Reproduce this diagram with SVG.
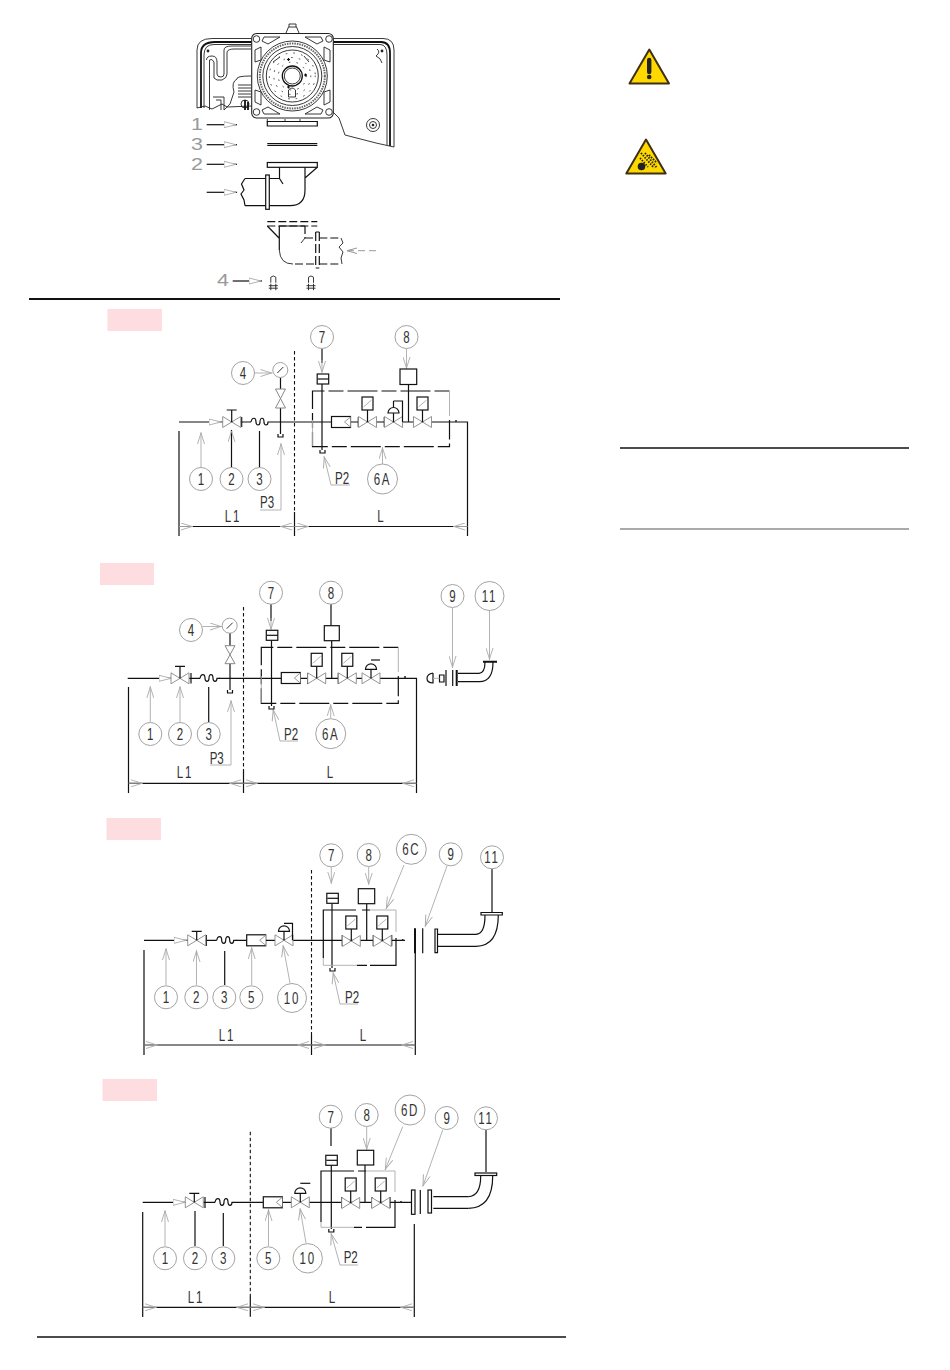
<svg xmlns="http://www.w3.org/2000/svg" width="950" height="1370" viewBox="0 0 950 1370">
<style>
.k{fill:none;stroke:#111;stroke-width:1.2}
.g{fill:none;stroke:#aaa;stroke-width:.9}
.t{fill:none;stroke:#111;stroke-width:2}
.dk{fill:none;stroke:#111;stroke-width:1.2;stroke-dasharray:15 4 30 4}
.dv{fill:none;stroke:#111;stroke-width:1.1;stroke-dasharray:3.5 2.5}
.c{fill:#fff;stroke:#999;stroke-width:.9}
.w{fill:#fff;stroke:#111;stroke-width:1.2}
text{font-family:"Liberation Sans",Arial,sans-serif;font-size:16.5px;fill:#333;text-anchor:middle}
.s{letter-spacing:2.5px}
.big{fill:#999;font-size:16.5px}
.pink{fill:#fddde0}
.d{fill:none;stroke:#222;stroke-width:.9}
.h{fill:none;stroke:#111;stroke-width:1.8}
</style>
<defs>
<marker id="a" viewBox="0 0 13 8" refX="13" refY="4" markerWidth="13" markerHeight="8" orient="auto-start-reverse" markerUnits="userSpaceOnUse"><path d="M0,1 L12,4 L0,7 Z" fill="#fff" stroke="#aaa" stroke-width=".9"/></marker>
<marker id="n" viewBox="0 0 13 8" refX="13" refY="4" markerWidth="13" markerHeight="8" orient="auto-start-reverse" markerUnits="userSpaceOnUse"><path d="M1,.5 L12,4 L1,7.5" fill="none" stroke="#aaa" stroke-width=".9"/></marker>
<g id="v"><path d="M-9,-5.5V5.5L9,-5.5V5.5Z" fill="#fff" stroke="#888" stroke-width=".9"/></g>
<g id="vm"><use href="#v"/><path class="k" d="M0,0V-12M-5,-12H5"/></g>
<g id="vm2"><use href="#v"/><path class="k" d="M0,0V-9M-5,-9H5"/></g>
<g id="vs"><use href="#v"/><path class="k" d="M0,0V-12"/><rect class="w" x="-5.5" y="-25" width="11" height="13"/><path class="g" d="M-4,-15L4,-22"/></g>
<g id="vr"><use href="#v"/><path class="k" d="M0,0V-9"/><path class="w" d="M-5.5,-9A5.5,5.5 0 0 1 5.5,-9Z"/></g>
<g id="f"><rect class="w" x="0" y="-5.5" width="19" height="11"/><path d="M19,-5L13,0L19,5" fill="#fff" stroke="#999"/></g>
<path id="b" class="k" d="M0,0C1,-5 5,-5 5,0C5,4 9,4 9,0C9,-5 13,-5 13,0C13,4 17,4 17,0L20,0"/>
<g id="sw"><rect class="w" x="-5.500" y="-5" width="11.500" height="10"/><path class="k" d="M-5,0H6"/></g>
<g id="gg"><circle class="c" r="7.500"/><path d="M-3,3L3,-3" stroke="#333" fill="none"/></g>
<path id="u" class="k" d="M-2.500,0V3H2.500V0"/>
<g id="bolt"><path class="d" d="M-2.500,6V0.500Q0,-2 2.500,.5V6M-4.500,9H4.500M-4.500,11.500H4.500M-2.500,7V13.500M2.500,7V13.500"/></g>
</defs>

<g id="rules">
<path d="M29,299H560" stroke="#111" stroke-width="2"/>
<path d="M37,1337H566" stroke="#111" stroke-width="1.6"/>
<path d="M620,448H909" stroke="#111" stroke-width="1.4"/>
<path d="M620,529H909" stroke="#aaa" stroke-width="1.8"/>
</g>

<g id="warn1">
<path d="M649.300,49.500L669,83.500H629.500Z" fill="#ffd800" stroke="#3d3115" stroke-width="2" stroke-linejoin="round"/>
<path d="M649.200,60V72" stroke="#222" stroke-width="4.400" stroke-linecap="round"/>
<circle cx="649.200" cy="77" r="2.300" fill="#222"/>
</g>
<g id="warn2">
<path d="M646,139.500L665.700,173.500H626.300Z" fill="#ffd800" stroke="#3d3115" stroke-width="2" stroke-linejoin="round"/>
<circle cx="641.500" cy="166.500" r="3.800" fill="#222"/>
<path d="M641,153L654,168M645,153L657,168M640,158L648,167M649,155L657,163" stroke="#222" stroke-width="1.800" stroke-dasharray="1.500 1.300" fill="none"/>
</g>

<g id="burner">
<path class="d" d="M251.700,38.500H212Q197,38.500 197,50V108M333.300,38.500H383Q394,38.500 394,50V147"/>
<path class="h" d="M251.700,42H215Q201,42 201,53V108M333.300,42H381Q390,42 390,53V146"/>
<path class="d" d="M251.700,44.500H214Q204,44.500 204,55V108M333.300,44.500H380Q387,44.500 387,55V145"/>
<path class="d" d="M197,108L205,106L212,109L222,104L227,107L251.700,106"/>
<path class="d" d="M394,147L376,143L345,135L339,118L333,112"/>
<path class="d" d="M206.500,60Q206.500,56 212,56Q217,56 217,62V74Q217,77 221,77Q224,77 224,74V50Q224,46 232,46H251"/>
<path class="d" d="M209.500,110V60Q212,58 214,62V78Q216,81 222,80Q227,78 227,74V52Q228,49 234,49H251"/>
<path class="d" d="M237,79Q236,76 251,76M237,79Q231,82 234,92L230,104L224,110"/>
<path class="d" d="M213,97H224V110M216,100H221V110"/>
<path class="d" d="M238,85H251M238,88H251M238,91H251M238,94H251M238,97H251"/>
<circle class="d" cx="245" cy="104" r="4"/><path class="h" d="M245,100V110M248,102V110"/>
<path class="d" d="M377,49Q381,52 376,56Q381,58 382,63"/>
<circle cx="208" cy="51" r="1.400" fill="#222"/><circle cx="382" cy="51" r="1.400" fill="#222"/>
<circle class="d" cx="373" cy="125" r="6.500"/><circle class="d" cx="373" cy="125" r="3.500"/><circle cx="373" cy="125" r="1.300" fill="#222"/>
<path class="d" d="M286,33L288.500,27H296.500L299,33M289,27V24H296V27"/>
<rect x="251.700" y="33.500" width="81.600" height="84.500" rx="5" fill="#fff" stroke="#222" stroke-width="1.100"/>
<circle class="d" cx="256.500" cy="39" r="3.300"/><circle class="d" cx="329" cy="39" r="3.300"/><circle class="d" cx="256.500" cy="112" r="3.300"/><circle class="d" cx="329" cy="112" r="3.300"/>
<path class="d" d="M264,37H280L268,44L262,41ZM305,37H321L323,41L317,44ZM264,114H280L268,107L262,110ZM305,114H321L323,110L317,107ZM255,50L261,47L261,60L255,62ZM330,50L324,47V60L330,62ZM255,102L261,105V92L255,90ZM330,102L324,105V92L330,90Z"/>
<circle class="d" cx="292.300" cy="76" r="35"/>
<circle cx="292.300" cy="76" r="32.500" fill="none" stroke="#666" stroke-width="2" stroke-dasharray="1.500 1"/>
<circle class="d" cx="292.300" cy="76" r="29.500"/><circle class="d" cx="292.300" cy="76" r="26"/>
<circle cx="292.300" cy="76" r="23" fill="none" stroke="#444" stroke-width="1" stroke-dasharray=".8 7" stroke-linecap="round"/>
<circle cx="292.300" cy="76" r="18.500" fill="none" stroke="#444" stroke-width="1" stroke-dasharray=".8 7" stroke-linecap="round"/>
<circle cx="292.300" cy="76" r="14" fill="none" stroke="#444" stroke-width="1" stroke-dasharray=".8 7" stroke-linecap="round"/>
<circle cx="292.300" cy="76" r="10" fill="#fff" stroke="#111" stroke-width="1.300"/><circle class="d" cx="292.300" cy="76" r="8"/>
<path class="d" d="M273,62L280,57M304,56L309,62"/>
<path class="d" d="M288.500,90Q292,86 295.500,90V97H288.500Z"/>
<path d="M287,59.500h3M288.500,58v3M304,75h3M305.500,73.500v3M287,87h3M288.500,85.500v3" stroke="#111" stroke-width="1.200"/>
<path class="d" d="M267.300,119V122M285,119V122M300,119V122"/>
<path class="w" d="M267.300,121.500H317.300V126H267.300Z"/>
<path class="k" d="M267.300,143.500H317.300M267.300,145.300H317.300"/>
<rect class="w" x="267.300" y="162.500" width="50" height="4.800"/>
<path class="k" d="M245,178.500H265.700M269.300,178.500H279.500V167.300M279.500,178.500L283,184M305,167.300V190Q305,205.700 290,205.700H269.300M265.700,205.700H245M305,178L317.300,167.300M245,178.500L241.500,184L244,190L241,194L244,200L245,205.700"/>
<rect class="w" x="265.700" y="175" width="3.600" height="34.300"/>
<path class="k" stroke-dasharray="8 3" d="M267.300,221.700H317.300M267.300,226H317.300"/>
<path class="k" d="M267.300,226L279,238M279.300,226H305M279.300,226V250"/>
<path class="k" stroke-dasharray="8 3" d="M305,226V238M305,238H315.700M319.300,238H341M319.300,264H341M295,264H315.700"/>
<path class="d" d="M279.300,250Q280,264 293,264M305,238L301,243M341,238L343,243L339,247L343,252L341,258L342,264"/>
<path class="k" stroke-dasharray="9 3" d="M315.700,232V268M319.300,232V268"/>
<path class="k" d="M315.700,232H319.300M315.700,268H319.300"/>
<path d="M376,250.700H369M365,250.700H358M354,250.700H347" stroke="#999" fill="none"/>
<path d="M357,248L347,250.700L357,253.500" fill="none" stroke="#999"/>
<use href="#bolt" x="273.300" y="276.700"/>
<use href="#bolt" x="311" y="276.700"/>
</g>
<g id="burner-arrows">
<text class="big" transform="translate(197,130) scale(1.300,1)">1</text><text class="big" transform="translate(197,150) scale(1.300,1)">3</text><text class="big" transform="translate(197,170) scale(1.300,1)">2</text><text class="big" transform="translate(223,286) scale(1.300,1)">4</text>
<path class="k" marker-end="url(#a)" d="M206.700,124.700H237"/>
<path class="k" marker-end="url(#a)" d="M206.700,144.700H237"/>
<path class="k" marker-end="url(#a)" d="M206.700,164.300H237"/>
<path class="k" marker-end="url(#a)" d="M206.700,192.300H237"/>
<path class="k" marker-end="url(#a)" d="M232.700,281H262"/>
</g>

<g id="scheme1">
<rect class="pink" x="107.500" y="309" width="54.500" height="22"/>
<g id="s1-connectors">
<path class="k" d="M179,422H251M271,422H467.500V536M179,431V536M179,526.500H467.500"/>
<path class="dv" d="M294.500,351V512"/><path class="k" d="M294.500,512V536"/>
<path class="g" marker-end="url(#n)" d="M179,526.500H193"/><path class="g" marker-end="url(#n)" d="M294.500,526.500H280"/><path class="g" marker-end="url(#n)" d="M294.500,526.500H309"/><path class="g" marker-end="url(#n)" d="M467.500,526.500H453"/>
<path class="g" marker-end="url(#a)" d="M209,422H222"/>
<path class="g" marker-end="url(#n)" d="M201,467V432"/>
<path class="k" marker-end="url(#n)" d="M231.500,467.500V430"/>
<path class="k" d="M259.500,467.500V431"/>
<path class="g" marker-end="url(#n)" d="M254.500,373H272.500"/>
<path class="k" d="M241.700,417V427M280.500,377.500V389M280.500,408V434M322,349V363"/>
<path class="g" marker-end="url(#n)" d="M322,360V373"/>
<path class="g" marker-end="url(#n)" d="M260,510H281V443"/>
<path class="g" d="M331,485H350"/><path class="g" marker-end="url(#n)" d="M331,485L324,456"/>
<path class="g" marker-end="url(#n)" d="M406.500,349V369"/>
<path class="g" marker-end="url(#n)" d="M382.500,464V447"/>
<path class="k" d="M322,384V450M408.500,384.500V422M358.300,417V427M384.300,417V427"/>
<path class="dk" d="M449.500,391H312.500V446.700H449.500V420"/>
<path class="g" d="M449.500,391V416M312.500,420V446"/>
</g>
<use href="#b" x="251" y="422"/>
<use href="#vm" x="231.700" y="422"/>
<path d="M275.500,389H285.500L275.500,408H285.500Z" fill="#fff" stroke="#888"/>
<use href="#gg" x="280.300" y="370"/>
<use href="#u" x="280.500" y="434"/><use href="#u" x="322.500" y="450"/>
<use href="#sw" x="322.700" y="379"/>
<rect class="w" x="400" y="369" width="16.700" height="15.500"/>
<use href="#f" x="331.500" y="422"/>
<use href="#vs" x="367.500" y="422"/>
<use href="#vr" x="393.500" y="422"/>
<path class="k" d="M393.500,401V407M393.500,401H402.500V422"/>
<use href="#vs" x="422.500" y="422"/>
<circle cx="456" cy="421" r="1" fill="#222"/>
<g id="s1-n1" transform="translate(201,479)"><circle class="c" r="11.500"/><text y="6" transform="scale(.7,1)">1</text></g>
<g id="s1-n2" transform="translate(231.500,479)"><circle class="c" r="11.500"/><text y="6" transform="scale(.7,1)">2</text></g>
<g id="s1-n3" transform="translate(259.500,479)"><circle class="c" r="11.500"/><text y="6" transform="scale(.7,1)">3</text></g>
<g id="s1-n4" transform="translate(243,373)"><circle class="c" r="11.500"/><text y="6" transform="scale(.7,1)">4</text></g>
<g id="s1-n7" transform="translate(322,337)"><circle class="c" r="11.500"/><text y="6" transform="scale(.7,1)">7</text></g>
<g id="s1-n8" transform="translate(406.500,337)"><circle class="c" r="11.500"/><text y="6" transform="scale(.7,1)">8</text></g>
<g id="s1-n6a" transform="translate(382.500,479)"><circle class="c" r="15"/><text class="s" y="6" transform="scale(.7,1)">6A</text></g>
<text class="s" transform="translate(233,521.500) scale(.7,1)">L1</text>
<text transform="translate(380.500,521.500) scale(.7,1)">L</text>
<text transform="translate(267,507.500) scale(.7,1)">P3</text>
<text transform="translate(342,483.500) scale(.7,1)">P2</text>
</g>

<g id="scheme2">
<rect class="pink" x="100" y="563" width="54" height="22"/>
<g id="s2-connectors">
<path class="k" d="M127.700,678.300H200M219,678.300H416.500V793M128.500,687V793M128.500,783.300H416.500"/>
<path class="dv" d="M243.500,607V770"/><path class="k" d="M243.500,770V793"/>
<path class="g" marker-end="url(#n)" d="M128.500,783.300H143"/><path class="g" marker-end="url(#n)" d="M243.500,783.300H229"/><path class="g" marker-end="url(#n)" d="M243.500,783.300H258"/><path class="g" marker-end="url(#n)" d="M416.500,783.300H402"/>
<path class="g" marker-end="url(#a)" d="M159,678.300H172"/>
<path class="g" marker-end="url(#n)" d="M150.300,722V686"/>
<path class="g" marker-end="url(#n)" d="M180,722V686"/>
<path class="k" d="M208.700,722V687"/>
<path class="g" marker-end="url(#n)" d="M202.500,626.500H222"/>
<path class="k" d="M191,673V683.500M230,633V645.700M230,663.700V690M271,604V621"/>
<path class="g" marker-end="url(#n)" d="M271,618V630"/>
<path class="g" marker-end="url(#n)" d="M210,765H231V700"/>
<path class="g" d="M280,741H298"/><path class="g" marker-end="url(#n)" d="M280,741L273,709"/>
<path class="k" d="M331,604V625.700M271.500,640.300V706M331.700,640.700V678.300M307.700,673V684M338.300,673V684"/>
<path class="g" marker-end="url(#n)" d="M330.700,718V704"/>
<path class="dk" d="M398.300,647.300H261.300V703.300H398.300V676"/>
<path class="g" d="M398.300,647.300V672M261.300,676V703"/>
<path class="k" d="M439.500,675V682H444V675ZM433,673V683Q427,683 427,678.300Q427,674 433,673"/>
<path class="g" d="M433,678.300H439.500"/>
<path class="g" marker-end="url(#n)" d="M452.500,608V668"/>
<path class="g" marker-end="url(#n)" d="M489.500,610V660"/>
</g>
<use href="#b" x="200" y="678.300"/>
<use href="#vm" x="180" y="678.300"/>
<path d="M225,645.700H235L225,663.700H235Z" fill="#fff" stroke="#888"/>
<use href="#gg" x="229.700" y="625.700"/>
<use href="#u" x="230" y="690"/><use href="#u" x="271.500" y="706"/>
<use href="#sw" x="271.800" y="635.300"/>
<rect class="w" x="324.300" y="625.700" width="15" height="15"/>
<use href="#f" x="281.300" y="678"/>
<use href="#vs" x="316.700" y="678.300"/>
<use href="#vs" x="347.300" y="678.300"/>
<use href="#vr" x="371" y="678.300"/>
<path class="k" d="M371,660H380"/>
<circle cx="405" cy="677" r="1" fill="#222"/>
<path class="k" d="M446,670V686M452.700,670V686M458,673.300H479M458,681.700H479"/>
<path class="t" d="M456.700,670V686M483,661.700H497"/>
<path class="k" d="M479,673.300Q485,673 485,662M479,681.700Q493,682 493,662"/>
<g id="s2-n1" transform="translate(150.300,734)"><circle class="c" r="11.500"/><text y="6" transform="scale(.7,1)">1</text></g>
<g id="s2-n2" transform="translate(180,734)"><circle class="c" r="11.500"/><text y="6" transform="scale(.7,1)">2</text></g>
<g id="s2-n3" transform="translate(208.700,734)"><circle class="c" r="11.500"/><text y="6" transform="scale(.7,1)">3</text></g>
<g id="s2-n4" transform="translate(191,630)"><circle class="c" r="11.500"/><text y="6" transform="scale(.7,1)">4</text></g>
<g id="s2-n7" transform="translate(271,592.700)"><circle class="c" r="11.500"/><text y="6" transform="scale(.7,1)">7</text></g>
<g id="s2-n8" transform="translate(331,592.700)"><circle class="c" r="11.500"/><text y="6" transform="scale(.7,1)">8</text></g>
<g id="s2-n9" transform="translate(452.500,596)"><circle class="c" r="11.500"/><text y="6" transform="scale(.7,1)">9</text></g>
<g id="s2-n11" transform="translate(489.500,596)"><circle class="c" r="14.500"/><text class="s" y="6" transform="scale(.7,1)">11</text></g>
<g id="s2-n6a" transform="translate(330.700,733.700)"><circle class="c" r="15"/><text class="s" y="6" transform="scale(.7,1)">6A</text></g>
<text class="s" transform="translate(185,777.500) scale(.7,1)">L1</text>
<text transform="translate(330,777.500) scale(.7,1)">L</text>
<text transform="translate(216.700,763.500) scale(.7,1)">P3</text>
<text transform="translate(291,739.500) scale(.7,1)">P2</text>
</g>

<g id="scheme3">
<rect class="pink" x="106.500" y="818" width="54.500" height="22"/>
<g id="s3-connectors">
<path class="k" d="M144,940.300H216.700M236,940.300H246.700M265.700,940.300H405M144,950V1055M415.300,953V1055M144,1045H415.300"/>
<path class="dv" d="M311.500,870V1035"/><path class="k" d="M311.500,1035V1055"/>
<path class="g" marker-end="url(#n)" d="M144,1045H158"/><path class="g" marker-end="url(#n)" d="M311.500,1045H297"/><path class="g" marker-end="url(#n)" d="M311.500,1045H326"/><path class="g" marker-end="url(#n)" d="M415.300,1045H401"/>
<path class="g" marker-end="url(#a)" d="M174,940.300H187"/>
<path class="g" marker-end="url(#n)" d="M166,985V948"/>
<path class="g" marker-end="url(#n)" d="M196.500,985V950"/>
<path class="k" d="M224.700,985V951"/>
<path class="g" marker-end="url(#n)" d="M251.700,985V947"/>
<path class="g" marker-end="url(#n)" d="M290,983L283,945"/>
<path class="k" d="M206.300,935V946M342.300,935V946M373.300,935V946M391.700,935V946"/>
<path class="g" marker-end="url(#n)" d="M331.300,867V884"/>
<path class="g" marker-end="url(#n)" d="M368.700,867V885"/>
<path class="k" d="M332,903.300V968M366.700,903.700V940.300"/>
<path class="g" d="M340,1004H358"/><path class="g" marker-end="url(#n)" d="M340,1004L333,972"/>
<path class="k" d="M356,910H323.300V958M362,910H370M357,965.300H367M370,965.300H396V938"/>
<path class="g" d="M370,910H396V932M323.300,958V965.300H357"/>
<path class="g" marker-end="url(#n)" d="M404,865L386,909"/>
<path class="g" marker-end="url(#n)" d="M447,866L425,927"/>
<path class="k" d="M492,869V912"/>
<path class="k" d="M422.700,928.300V953.300M437,934.300H476M437,946.300H476"/>
<path class="t" d="M415,928.300V953.300"/>
<path class="w" d="M435,929H437.500V952.700H435Z"/>
<path class="k" d="M476,934.300Q485,934 485,915M476,946.300Q498.300,946 498.300,915"/>
<path class="w" d="M481,912.500H502.300V915H481Z"/>
</g>
<use href="#b" x="216.700" y="940.300"/>
<use href="#vm2" x="196.700" y="940.300"/>
<use href="#f" x="246.700" y="940.300"/>
<use href="#vr" x="284" y="940.300"/>
<path class="k" d="M284,923.300H292.500V940.300"/>
<use href="#u" x="332.500" y="968"/>
<use href="#sw" x="332.300" y="898.300"/>
<rect class="w" x="358.300" y="888.700" width="16.400" height="15"/>
<use href="#vs" x="351.300" y="941"/>
<use href="#vs" x="382.300" y="941"/>
<circle cx="402.700" cy="940" r="1" fill="#222"/>
<g id="s3-n1" transform="translate(166,997.300)"><circle class="c" r="11.500"/><text y="6" transform="scale(.7,1)">1</text></g>
<g id="s3-n2" transform="translate(196.300,997.300)"><circle class="c" r="11.500"/><text y="6" transform="scale(.7,1)">2</text></g>
<g id="s3-n3" transform="translate(224.300,997.300)"><circle class="c" r="11.500"/><text y="6" transform="scale(.7,1)">3</text></g>
<g id="s3-n5" transform="translate(251.300,997.300)"><circle class="c" r="11.500"/><text y="6" transform="scale(.7,1)">5</text></g>
<g id="s3-n10" transform="translate(292,998)"><circle class="c" r="14.500"/><text class="s" y="6" transform="scale(.7,1)">10</text></g>
<g id="s3-n7" transform="translate(331.300,855.300)"><circle class="c" r="11.500"/><text y="6" transform="scale(.7,1)">7</text></g>
<g id="s3-n8" transform="translate(368.700,855)"><circle class="c" r="11.500"/><text y="6" transform="scale(.7,1)">8</text></g>
<g id="s3-n6c" transform="translate(411.300,849.300)"><circle class="c" r="15"/><text class="s" y="6" transform="scale(.7,1)">6C</text></g>
<g id="s3-n9" transform="translate(450.700,854.300)"><circle class="c" r="11.500"/><text y="6" transform="scale(.7,1)">9</text></g>
<g id="s3-n11" transform="translate(492,857.300)"><circle class="c" r="11.500"/><text class="s" y="6" transform="scale(.7,1)">11</text></g>
<text class="s" transform="translate(227,1040.500) scale(.7,1)">L1</text>
<text transform="translate(363,1040.500) scale(.7,1)">L</text>
<text transform="translate(352,1002.500) scale(.7,1)">P2</text>
</g>

<g id="scheme4">
<rect class="pink" x="102.500" y="1079" width="54.500" height="22"/>
<g id="s4-connectors">
<path class="k" d="M142.700,1202.300H215M235,1202.300H263.300M282.300,1202.300H411M142.700,1212V1317M414.300,1224V1317M142.700,1307.300H414.300"/>
<path class="dv" d="M250.300,1131.700V1296"/><path class="k" d="M250.300,1296V1316.700"/>
<path class="g" marker-end="url(#n)" d="M142.700,1307.300H157"/><path class="g" marker-end="url(#n)" d="M250.300,1307.300H236"/><path class="g" marker-end="url(#n)" d="M250.300,1307.300H265"/><path class="g" marker-end="url(#n)" d="M414.300,1307.300H400"/>
<path class="g" marker-end="url(#a)" d="M173,1202.300H186"/>
<path class="g" marker-end="url(#n)" d="M165,1246V1210"/>
<path class="k" d="M195,1246V1211"/>
<path class="k" d="M223.300,1246V1213"/>
<path class="g" marker-end="url(#n)" d="M268.500,1246V1209"/>
<path class="g" marker-end="url(#n)" d="M306,1243L300,1208"/>
<path class="k" d="M205,1197V1208M341.700,1197V1208M372,1197V1208M390,1197V1208M331,1128V1146"/>
<path class="g" marker-end="url(#n)" d="M366.700,1127V1150"/>
<path class="k" d="M331.300,1165V1229M365,1165V1202.300"/>
<path class="g" d="M340,1265H358"/><path class="g" marker-end="url(#n)" d="M340,1265L331,1233"/>
<path class="k" d="M354,1171H321V1222M358,1171H366M354,1227.300H362M366,1227.300H395V1200"/>
<path class="g" d="M366,1171H395V1192M321,1222V1227.300H354"/>
<path class="g" marker-end="url(#n)" d="M402.700,1126.700L385,1170"/>
<path class="g" marker-end="url(#n)" d="M442.700,1130L422.700,1186.700"/>
<path class="k" d="M486,1130V1172M433.300,1196.700H468.300M433.300,1208.300H468.300M420.300,1190V1214"/>
<path class="k" d="M468.300,1196.700Q480.700,1196 480.700,1176M468.300,1208.300Q492.700,1208 492.700,1176"/>
</g>
<use href="#b" x="215" y="1202.300"/>
<use href="#vm2" x="194.300" y="1202.300"/>
<use href="#f" x="263.300" y="1202.300"/>
<use href="#vr" x="300.300" y="1202.300"/>
<path class="k" d="M300.300,1183.300H310.300"/>
<use href="#u" x="331.300" y="1229"/>
<use href="#sw" x="331.300" y="1160.300"/>
<rect class="w" x="357.300" y="1150.300" width="16.400" height="14.700"/>
<use href="#vs" x="350.700" y="1203"/>
<use href="#vs" x="380.700" y="1203"/>
<circle cx="401" cy="1202" r="1" fill="#222"/>
<rect class="w" x="411.500" y="1190" width="3.500" height="24.300"/>
<rect class="w" x="428" y="1190" width="3.500" height="23"/>
<rect class="w" x="475" y="1173" width="21.700" height="2.500"/>
<g id="s4-n1" transform="translate(165,1258.300)"><circle class="c" r="11.500"/><text y="6" transform="scale(.7,1)">1</text></g>
<g id="s4-n2" transform="translate(195,1258.300)"><circle class="c" r="11.500"/><text y="6" transform="scale(.7,1)">2</text></g>
<g id="s4-n3" transform="translate(223.300,1258.300)"><circle class="c" r="11.500"/><text y="6" transform="scale(.7,1)">3</text></g>
<g id="s4-n5" transform="translate(268.300,1258.300)"><circle class="c" r="11.500"/><text y="6" transform="scale(.7,1)">5</text></g>
<g id="s4-n10" transform="translate(307.700,1258.300)"><circle class="c" r="14.700"/><text class="s" y="6" transform="scale(.7,1)">10</text></g>
<g id="s4-n7" transform="translate(330.700,1116.700)"><circle class="c" r="11.500"/><text y="6" transform="scale(.7,1)">7</text></g>
<g id="s4-n8" transform="translate(366.700,1115)"><circle class="c" r="11.500"/><text y="6" transform="scale(.7,1)">8</text></g>
<g id="s4-n6d" transform="translate(410,1110)"><circle class="c" r="15"/><text class="s" y="6" transform="scale(.7,1)">6D</text></g>
<g id="s4-n9" transform="translate(446.700,1118)"><circle class="c" r="11.500"/><text y="6" transform="scale(.7,1)">9</text></g>
<g id="s4-n11" transform="translate(486,1118.300)"><circle class="c" r="11.500"/><text class="s" y="6" transform="scale(.7,1)">11</text></g>
<text class="s" transform="translate(196,1302.500) scale(.7,1)">L1</text>
<text transform="translate(332,1302.500) scale(.7,1)">L</text>
<text transform="translate(350.700,1263) scale(.7,1)">P2</text>
</g>
</svg>
